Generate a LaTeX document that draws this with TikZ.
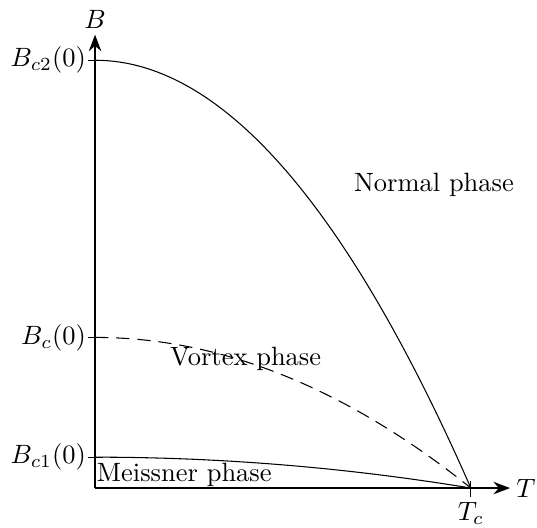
\documentclass[tikz,border=0pt]{standalone}
\usepackage{tikz}
\usetikzlibrary{arrows.meta,positioning}
\tikzset{
  axis/.style={thick, -{Stealth[length=2.2mm]}},
  curve/.style={thin, smooth, samples=60},
  tick/.style={thin},
  lbl/.style={inner sep=2pt},
  ticklbl/.style={inner sep=0.4pt},
  phase/.style={inner sep=0.5pt}
}
\begin{document}
\begin{tikzpicture}
    \useasboundingbox (-1.262,-0.518) rectangle (5.868,6.48);
    % axes
    \coordinate (O) at (0,0);
    \coordinate (xend) at (5.51,0);
    \coordinate (yend) at (0,6.02);
    \draw[axis] (O) -- (xend) node[right, lbl] (T) {$T$};
    \draw[axis] (O) -- (yend) node[above, lbl] (B) {$B$};
    % ticks
    \draw[tick] (-0.1,5.68) -- (0.1,5.68) node[pos=0, left, ticklbl] (bc2) {$B_{c2}(0)$};
    \draw[tick] (-0.1,2.0) -- (0.1,2.0) node[pos=0, left, ticklbl] (bc) {$B_c(0)$};
    \draw[tick] (-0.1,0.41) -- (0.1,0.41) node[pos=0, left, ticklbl] (bc1) {$B_{c1}(0)$};
    \draw[tick] (4.99,0.1) -- (4.99,-0.12) node[below, lbl] (tc) {$T_c$};
    % critical fields
    \draw[curve, domain=0:4.99] plot (\x, {5.68*(1-(\x/4.99)^2)});
    \draw[curve, dashed, dash pattern=on 5pt off 3pt, domain=0:4.99] plot (\x, {2.0*(1-(\x/4.99)^2)});
    \draw[curve, domain=0:4.99] plot (\x, {0.41*(1-(\x/4.99)^2)});
    % phases
    \node[phase] (normal) at (4.50,4.02) {Normal phase};
    \node[phase] (vortex) at (2.0,1.71) {Vortex phase};
    \node[phase, anchor=south west] (meissner) at (O) {Meissner phase};
\end{tikzpicture}
\end{document}
